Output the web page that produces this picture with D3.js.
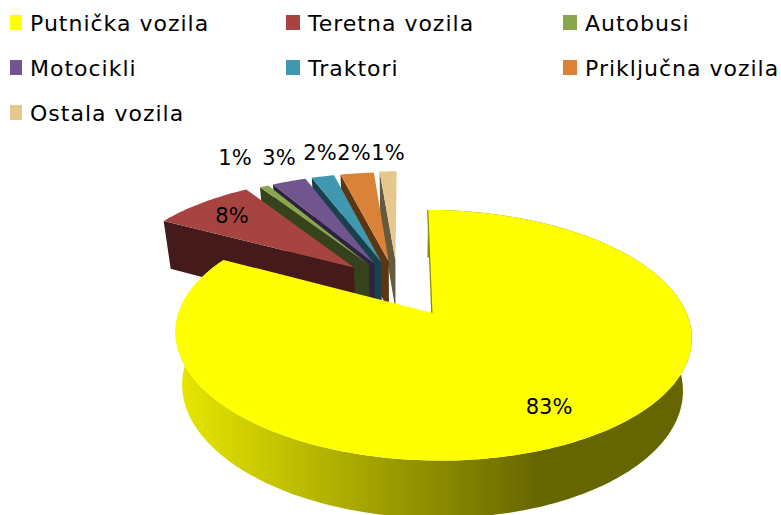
<!DOCTYPE html>
<html><head><meta charset="utf-8">
<script src="https://cdn.jsdelivr.net/npm/d3@7"></script>
<style>html,body{margin:0;padding:0;background:#fff}svg{display:block}text{font-family:"DejaVu Sans",sans-serif;fill:#000}</style>
</head><body><div id="c"></div>
<script>
const categories=["Putnička vozila","Teretna vozila","Autobusi","Motocikli","Traktori","Priključna vozila","Ostala vozila"];
const values=[82.8,8,0.7,2.7,1.8,2.65,1.35];
const labels=["83%","8%","1%","3%","2%","2%","1%"];
const topColors=["#ffff00","#a74442","#8aa64c","#70558f","#3f98b0","#da8237","#e6c88e"];
const wallColors=["#8a8a00","#451a1a","#35421c","#2e2240","#1a404d","#5c3612","#665a3e"];
const explosion=[0.27,0.25,0.23,0.23,0.23,0.23,0.24];
const labelPos=[[549,407],[232,216],[235,158],[279,158],[320,153],[354,153],[388,153]];
const legendPos=[[10,23],[286,23],[563,23],[10,68],[286,68],[563,68],[10,113]];

const W=781,H=515;
const cx=397.5,cy=286,A=244,B=112,p=0.17,D=50.5,sx=0.97,sy=1.04;
const svg=d3.select("#c").append("svg").attr("width",W).attr("height",H);
const defs=svg.append("defs");
const g=defs.append("linearGradient").attr("id","side").attr("gradientUnits","userSpaceOnUse")
  .attr("x1",176).attr("x2",540).attr("y1",0).attr("y2",0);
g.append("stop").attr("offset",0).attr("stop-color","#e8e800");
g.append("stop").attr("offset",1).attr("stop-color","#666600");

const pie=d3.pie().sort(null).startAngle(0.005).endAngle(2*Math.PI+0.005)(values);
const line=d3.line();
function proj(u,v){const w=1-p*v;return [cx+A*u/w,cy+B*v/w];}
function low(pt){return [cx+(pt[0]-cx)*sx,cy+(pt[1]-cy)*sy+D];}
function plane(i,a,r){const m=(pie[i].startAngle+pie[i].endAngle)/2,e=explosion[i];
  return proj(e*Math.sin(m)+r*Math.sin(a),-e*Math.cos(m)-r*Math.cos(a));}
function arcPts(i,from,to){const n=Math.max(4,Math.ceil(Math.abs(to-from)/0.02));
  return d3.range(n+1).map(k=>plane(i,from+(to-from)*k/n,1));}

// back-to-front: small slices right to left, then the large yellow one
[6,5,4,3,2,1,0].forEach(i=>{
  const d=pie[i],apex=plane(i,d.startAngle,0),s=plane(i,d.startAngle,1);
  if(i===0){
    const rim=arcPts(0,d.startAngle,d.endAngle);
    svg.append("path").attr("d",line([...rim,...rim.slice().reverse().map(low)])+"Z").attr("fill","url(#side)");
    svg.append("path").attr("d",line([s,apex])).attr("fill","none").attr("stroke",wallColors[0]).attr("stroke-width",2.5);
  } else {
    svg.append("path").attr("d",line([s,apex,low(apex),low(s)])+"Z").attr("fill",wallColors[i]);
  }
  svg.append("path").attr("d",line([apex,...arcPts(i,d.startAngle,d.endAngle)])+"Z").attr("fill",topColors[i]);
});

labels.forEach((t,i)=>svg.append("text").attr("x",labelPos[i][0]).attr("y",labelPos[i][1])
  .attr("text-anchor","middle").attr("dominant-baseline","central").attr("font-size",21).text(t));
categories.forEach((t,i)=>{const [x,y]=legendPos[i];
  svg.append("rect").attr("x",x).attr("y",y-8).attr("width",i%3===0?12:14).attr("height",15).attr("fill",topColors[i]);
  svg.append("text").attr("x",x+(i%3===0?20:22)).attr("y",y).attr("dominant-baseline","central").attr("font-size",22).attr("letter-spacing",1).text(t);
});
</script></body></html>
